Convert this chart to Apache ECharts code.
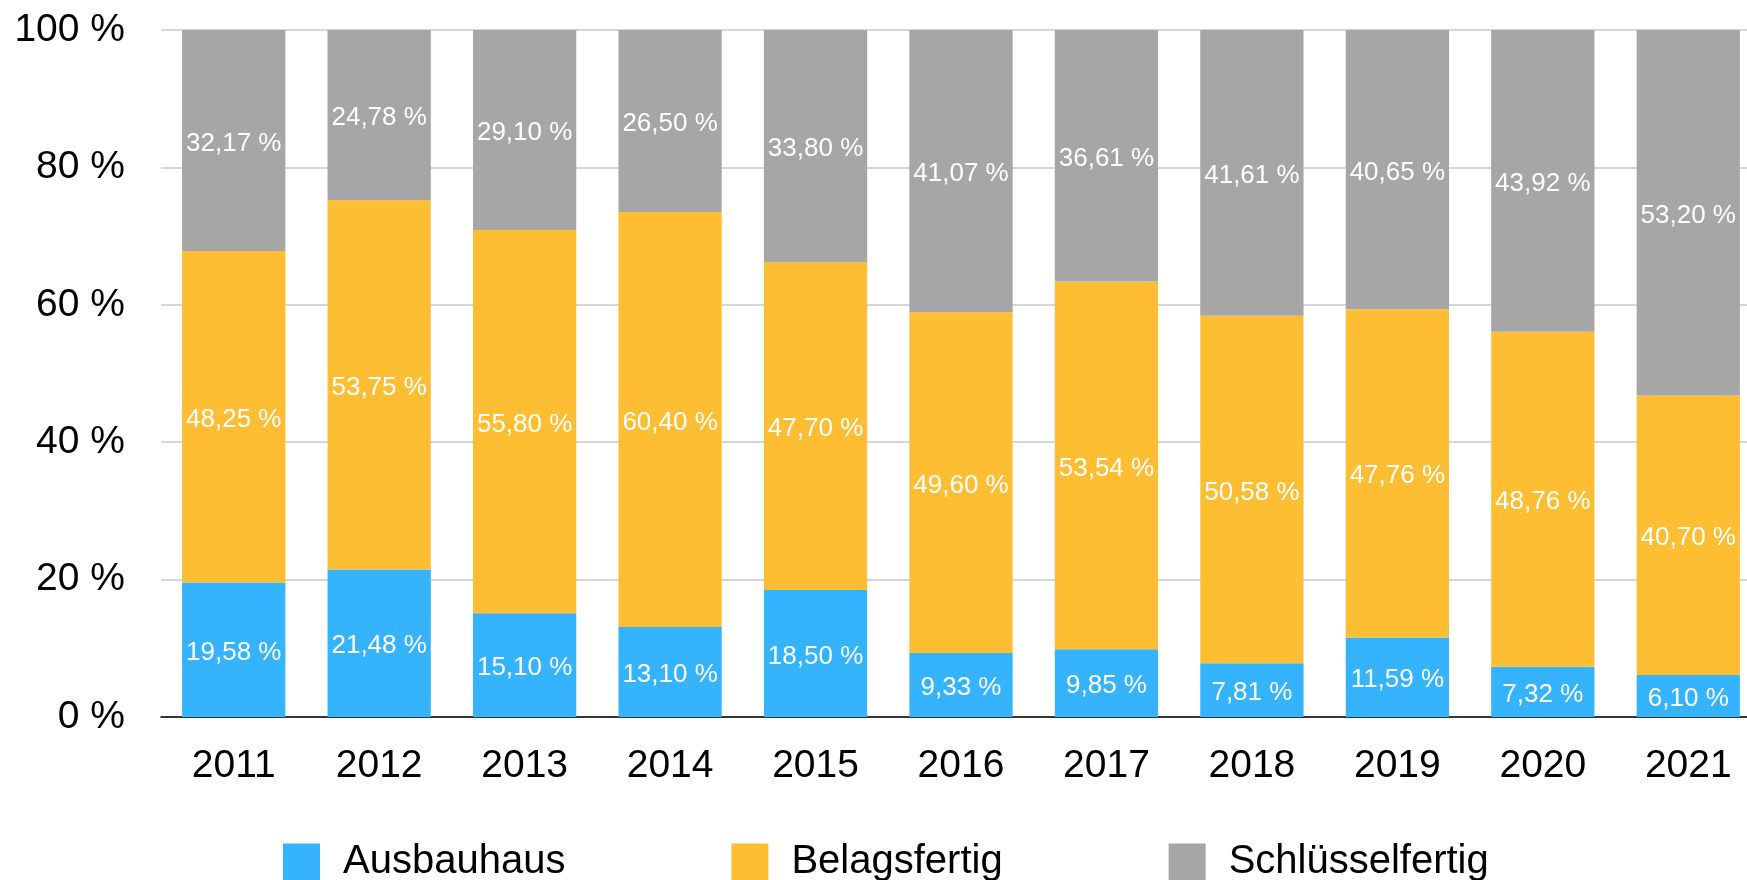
<!DOCTYPE html>
<html>
<head>
<meta charset="utf-8">
<script src="https://cdn.jsdelivr.net/npm/echarts@6/dist/echarts.min.js"></script>
<style>
  html, body { margin: 0; padding: 0; background: #fff; }
  #chart { width: 1747px; height: 880px; }
</style>
</head>
<body>
<div id="chart"></div>
<script>
var years = ['2011', '2012', '2013', '2014', '2015', '2016', '2017', '2018', '2019', '2020', '2021'];
var ausbauhaus = [19.58, 21.48, 15.10, 13.10, 18.50, 9.33, 9.85, 7.81, 11.59, 7.32, 6.10];
var belagsfertig = [48.25, 53.75, 55.80, 60.40, 47.70, 49.60, 53.54, 50.58, 47.76, 48.76, 40.70];
var schluesselfertig = [32.17, 24.78, 29.10, 26.50, 33.80, 41.07, 36.61, 41.61, 40.65, 43.92, 53.20];
var yTicks = [0, 20, 40, 60, 80, 100];

var font = 'Liberation Sans, Helvetica, Arial, sans-serif';

// Zahlen mit Komma wie im Original
function pct(v) {
    return v.toFixed(2).replace('.', ',') + ' %';
}

function makeSeries(name, data, color) {
    return {
        name: name,
        type: 'bar',
        stack: 'total',
        barWidth: '71%',
        data: data,
        itemStyle: { color: color },
        label: {
            show: true,
            position: 'inside',
            offset: [0, 3],
            color: '#fff',
            fontFamily: font,
            fontSize: 26,
            formatter: function (p) { return pct(p.value); }
        }
    };
}

var myChart = echarts.init(document.getElementById('chart'));
var option = {
    animation: false,
    textStyle: { fontFamily: font },
    grid: { left: 161, top: 30, width: 1600, height: 687, outerBoundsMode: 'none', containLabel: false },
    legend: {
        left: 278,
        top: 837,
        itemWidth: 37,
        itemHeight: 37,
        itemGap: 166,
        icon: 'rect',
        textStyle: { fontFamily: font, fontSize: 40, color: '#000', padding: [0, 0, 0, 18] },
        data: ['Ausbauhaus', 'Belagsfertig', 'Schlüsselfertig']
    },
    xAxis: {
        type: 'category',
        data: years,
        axisLine: { lineStyle: { color: '#000', width: 1.5 } },
        axisTick: { show: false },
        axisLabel: { color: '#000', fontSize: 39, fontFamily: font, margin: 30 }
    },
    yAxis: {
        type: 'value',
        min: yTicks[0],
        max: yTicks[yTicks.length - 1],
        interval: 20,
        axisLine: { show: false },
        axisTick: { show: false },
        splitLine: { lineStyle: { color: '#c8c8c8', width: 1.5 } },
        axisLabel: { color: '#000', fontSize: 39, fontFamily: font, margin: 36, formatter: '{value} %' }
    },
    series: [
        makeSeries('Ausbauhaus', ausbauhaus, '#35b4fd'),
        makeSeries('Belagsfertig', belagsfertig, '#fdbe34'),
        makeSeries('Schlüsselfertig', schluesselfertig, '#a6a6a6')
    ]
};
myChart.setOption(option);
</script>
</body>
</html>
